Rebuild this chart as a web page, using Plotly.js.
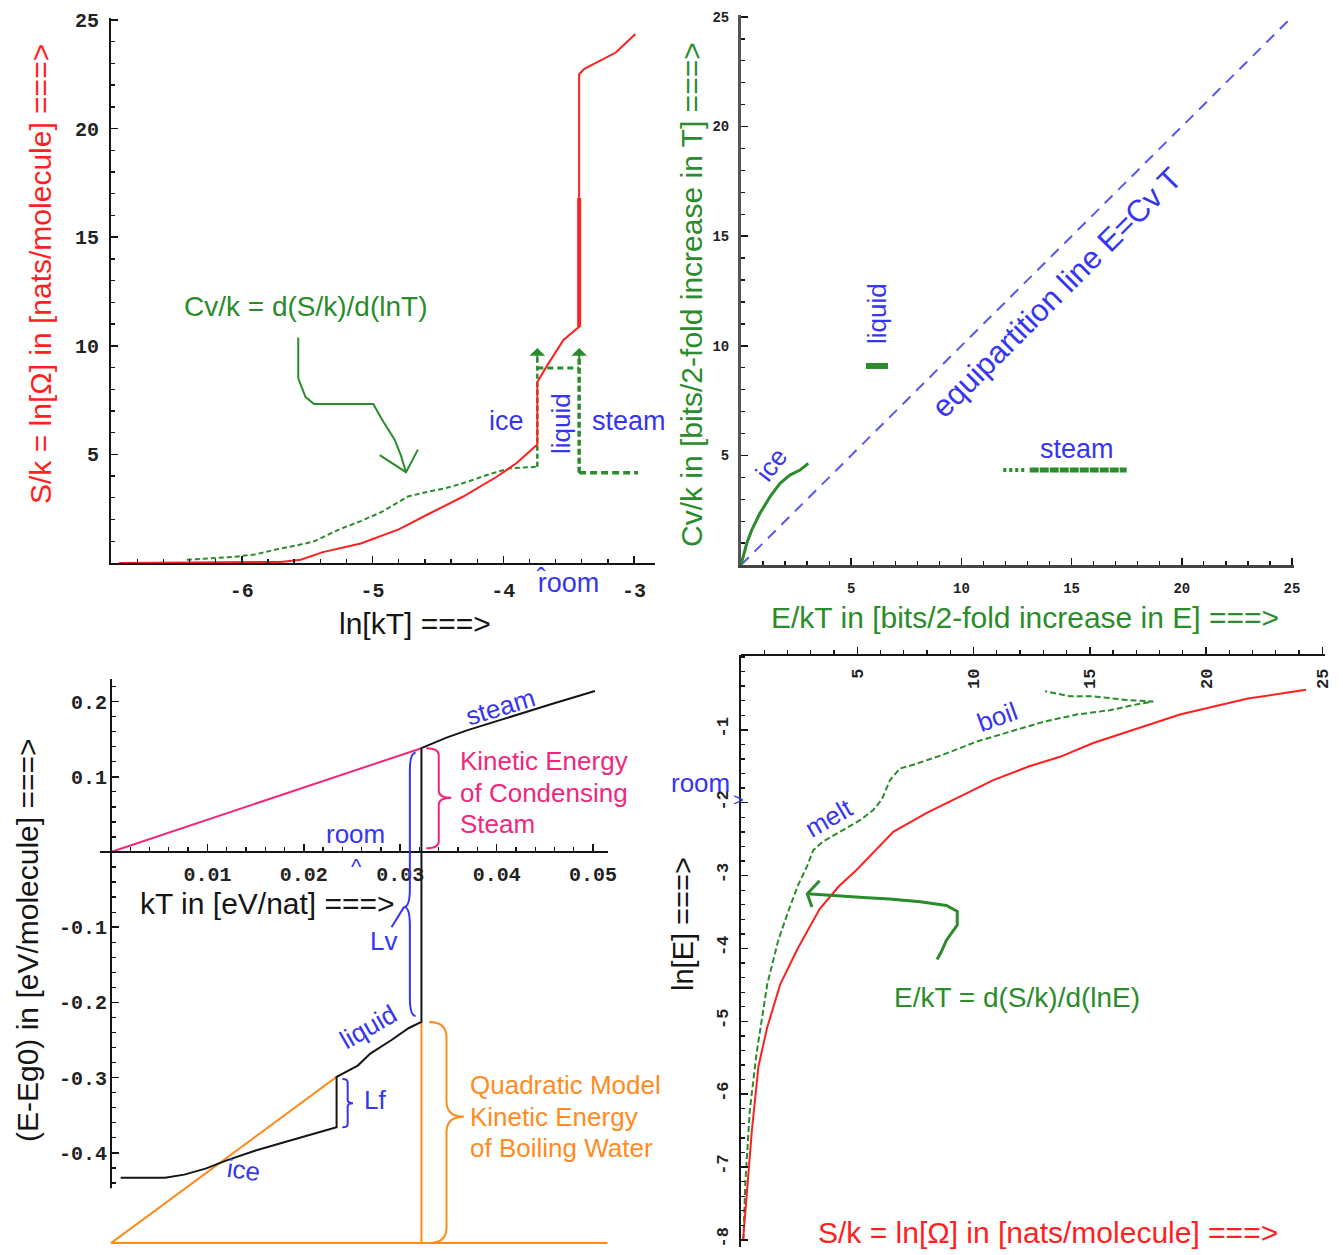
<!DOCTYPE html>
<html><head><meta charset="utf-8">
<script src="https://cdn.plot.ly/plotly-3.0.1.min.js"></script>
<style>html,body{margin:0;padding:0;background:#fff}#chart{width:1343px;height:1255px}</style>
</head><body><div id="chart"></div>
<script>
// ---------- Panel 1: S/k and Cv/k versus ln[kT] ----------
const p1_lnkT_S = [-6.94, -5.70, -5.55, -5.38, -5.09, -4.80, -4.56, -4.31, -4.05, -3.90, -3.74, -3.74, -3.67, -3.54, -3.42, -3.42, -3.38, -3.30, -3.14, -2.99];
const p1_S      = [0, 0.05, 0.15, 0.5, 0.9, 1.55, 2.29, 3.05, 3.97, 4.59, 5.45, 8.33, 9.04, 10.27, 10.88, 22.5, 22.75, 23.0, 23.5, 24.35];
const p1_boilThickS = [10.88, 16.8];
const p1_lnkT_CvIce = [-6.42, -6.07, -5.90, -5.74, -5.58, -5.45, -5.25, -5.09, -4.93, -4.73, -4.60, -4.44, -4.31, -4.10, -3.95, -3.74];
const p1_CvIce      = [0.15, 0.28, 0.39, 0.62, 0.81, 0.99, 1.56, 1.93, 2.35, 3.06, 3.25, 3.45, 3.67, 4.10, 4.36, 4.43];
const p1_lnkT_melt = -3.74, p1_lnkT_boil = -3.42, p1_lnkT_end = -2.97;
const p1_CvLiquid = 8.98, p1_CvSteam = 4.16, p1_spikeTop = 9.8;
const p1_arrowX = [-5.568, -5.568, -5.513, -5.448, -4.994, -4.929, -4.831, -4.782, -4.744, null, -4.945, -4.744, -4.653];
const p1_arrowY = [10.38, 8.5, 7.65, 7.32, 7.32, 6.62, 5.68, 4.93, 4.18, null, 4.97, 4.18, 5.22];

// ---------- Panel 2: Cv/k versus E/kT ----------
const p2_EkT_ice = [0, 0.1, 0.26, 0.49, 0.86, 1.32, 1.77, 2.22, 2.68, 3.05];
const p2_Cv_ice  = [0, 0.38, 0.99, 1.6, 2.36, 3.12, 3.73, 4.1, 4.33, 4.64];
const p2_EkT_liquid = [5.67, 6.67], p2_Cv_liquid = 9.08;
const p2_EkT_steamDot = [11.9, 12.9], p2_EkT_steam = [13.1, 17.5], p2_Cv_steam = 4.33;
const p2_equip = [0, 25];

// ---------- Panel 3: (E-Eg0) versus kT ----------
const p3_kT = [0.001, 0.0056, 0.0076, 0.0098, 0.012, 0.015, 0.0185, 0.0212, 0.0234, 0.0234, 0.0256, 0.0269, 0.0291, 0.0309, 0.0322, 0.0322, 0.0348, 0.037, 0.0414, 0.0458, 0.0502];
const p3_E  = [-0.433, -0.433, -0.429, -0.421, -0.41, -0.397, -0.384, -0.374, -0.366, -0.299, -0.284, -0.268, -0.25, -0.234, -0.226, 0.138, 0.152, 0.162, 0.18, 0.197, 0.214];
const p3_pinkKT = [0, 0.0322], p3_pinkE = [0, 0.138];
const p3_orangeBase = -0.52, p3_orangeEnd = 0.0517;
const p3_orangeDiagKT = [0, 0.0234], p3_orangeDiagE = [-0.52, -0.299];
const p3_boilKT = 0.0322, p3_boilLiquidE = -0.226;
const p3_LvLineKT = [0.0304, 0.0291], p3_LvLineE = [-0.073, -0.100];

// ---------- Panel 4: ln[E] versus S/k and E/kT ----------
const p4_S    = [0.09, 0.28, 0.47, 0.75, 1.13, 1.69, 2.44, 3.38, 4.2, 4.98, 5.8, 6.55, 7.99, 9.42, 10.85, 12.4, 13.72, 15.15, 16.87, 18.88, 21.8, 24.3];
const p4_lnE_S = [-8.0, -7.3, -6.49, -5.62, -5.08, -4.49, -4.0, -3.46, -3.15, -2.92, -2.65, -2.40, -2.14, -1.92, -1.69, -1.5, -1.37, -1.18, -1.0, -0.79, -0.57, -0.45];
const p4_EkT  = [0.1, 0.19, 0.38, 0.66, 1.13, 1.6, 2.07, 2.44, 2.83, 3.11, 3.54, 4.26, 5.12, 5.69, 6.05, 6.41, 6.84, 7.41, 8.70, 10.14, 11.57, 13.0, 14.44, 15.87, 16.87, 17.73, 16.59, 15.15, 14.15, 13.08];
const p4_lnE_EkT = [-8.0, -7.19, -6.22, -5.46, -4.49, -3.89, -3.46, -3.14, -2.88, -2.65, -2.53, -2.40, -2.24, -2.10, -1.96, -1.69, -1.53, -1.48, -1.34, -1.16, -1.02, -0.89, -0.79, -0.73, -0.66, -0.61, -0.59, -0.54, -0.54, -0.47];
const p4_arrowX = [8.43, 8.61, 8.83, 9.06, 9.30, 9.30, 8.83, 7.71, 6.39, 5.26, 3.95, 2.85, null, 3.38, 2.85, 3.05];
const p4_arrowY = [-4.15, -4.05, -3.89, -3.78, -3.68, -3.49, -3.41, -3.36, -3.32, -3.30, -3.27, -3.25, null, -3.07, -3.25, -3.43];

// ---------- styling ----------
const W = 1343, H = 1255;
const px = v => v / W, py = v => 1 - v / H;
const RED = '#ff1f1f', GREEN = '#2a8c2a', BLUE = '#3535f2', PINK = '#f0287c', ORANGE = '#ff8b1f', BLACK = '#151515';
const SANS = 'Liberation Sans, Arial, sans-serif';
const MONO = 'Liberation Mono, Courier New, monospace';

function line(x, y, xa, ya, color, width, dash) {
  return {type: 'scatter', mode: 'lines', x: x, y: y, xaxis: xa, yaxis: ya, hoverinfo: 'skip',
          line: {color: color, width: width, dash: dash || 'solid'}, connectgaps: false};
}
const traces = [
  // panel 1
  line(p1_lnkT_CvIce, p1_CvIce, 'x', 'y', GREEN, 2, '5px,3px'),
  line([p1_lnkT_melt, p1_lnkT_melt], [p1_CvIce[p1_CvIce.length - 1], p1_spikeTop], 'x', 'y', GREEN, 2.5, '5px,3px'),
  line([p1_lnkT_melt, p1_lnkT_boil], [p1_CvLiquid, p1_CvLiquid], 'x', 'y', GREEN, 3, '6px,4px'),
  line([p1_lnkT_boil, p1_lnkT_boil], [p1_CvSteam, p1_spikeTop], 'x', 'y', GREEN, 3.5, '6px,3px'),
  line([p1_lnkT_boil, p1_lnkT_end], [p1_CvSteam, p1_CvSteam], 'x', 'y', GREEN, 3.5, '7px,4px'),
  line(p1_lnkT_S, p1_S, 'x', 'y', RED, 2),
  line([p1_lnkT_boil, p1_lnkT_boil], p1_boilThickS, 'x', 'y', RED, 4),
  line(p1_arrowX, p1_arrowY, 'x', 'y', GREEN, 2),
  // panel 2
  line(p2_equip, p2_equip, 'x2', 'y2', '#5757ee', 2, '11px,8px'),
  line(p2_EkT_ice, p2_Cv_ice, 'x2', 'y2', GREEN, 3),
  line(p2_EkT_liquid, [p2_Cv_liquid, p2_Cv_liquid], 'x2', 'y2', GREEN, 6),
  line(p2_EkT_steamDot, [p2_Cv_steam, p2_Cv_steam], 'x2', 'y2', GREEN, 4, '3px,3px'),
  line(p2_EkT_steam, [p2_Cv_steam, p2_Cv_steam], 'x2', 'y2', GREEN, 5, '9px,1px'),
  // panel 3
  line([0, p3_orangeEnd], [p3_orangeBase, p3_orangeBase], 'x3', 'y3', ORANGE, 2),
  line(p3_orangeDiagKT, p3_orangeDiagE, 'x3', 'y3', ORANGE, 2),
  line([p3_boilKT, p3_boilKT], [p3_orangeBase, p3_boilLiquidE], 'x3', 'y3', ORANGE, 2),
  line(p3_pinkKT, p3_pinkE, 'x3', 'y3', PINK, 2),
  line(p3_kT, p3_E, 'x3', 'y3', BLACK, 2),
  line(p3_LvLineKT, p3_LvLineE, 'x3', 'y3', BLUE, 2),
  // panel 4
  line(p4_EkT, p4_lnE_EkT, 'x4', 'y4', GREEN, 2, '6px,3px'),
  line(p4_S, p4_lnE_S, 'x4', 'y4', RED, 2),
  line(p4_arrowX, p4_arrowY, 'x4', 'y4', GREEN, 3)
];

function ax(o) {
  return Object.assign({
    showgrid: false, zeroline: false, showline: true, linecolor: BLACK, linewidth: 2,
    ticks: 'inside', ticklen: 7, tickwidth: 1.5, tickcolor: BLACK, fixedrange: true,
    tickfont: {family: MONO, size: 20, weight: 'bold', color: '#222'}
  }, o);
}
function minor(o) { return Object.assign({ticks: 'inside', ticklen: 4, tickwidth: 1.3, tickcolor: BLACK}, o); }
const p3MinorY = [];
for (let v = -0.44; v <= 0.221; v += 0.02) p3MinorY.push(Math.round(v * 100) / 100);

function brace(xr, yr, x, y0, y1, d, ym, color) {
  ym = (ym === undefined) ? (y0 + y1) / 2 : ym;
  const h = x + d / 2, s = (y1 - y0) * 0.07;
  const path = `M ${x},${y0} Q ${h},${y0} ${h},${y0 + s} L ${h},${ym - s} Q ${h},${ym} ${x + d},${ym} ` +
               `Q ${h},${ym} ${h},${ym + s} L ${h},${y1 - s} Q ${h},${y1} ${x},${y1}`;
  return {type: 'path', xref: xr, yref: yr, path: path, line: {color: color, width: 2}};
}

function lab(text, x, y, size, color, angle, extra) {
  return Object.assign({text: text, x: px(x), y: py(y), xref: 'paper', yref: 'paper', showarrow: false,
    xanchor: 'center', yanchor: 'middle', textangle: angle || 0,
    font: {family: SANS, size: size, color: color}}, extra || {});
}
function spikeHead(x, xa, ya) {
  return {x: x, y: p1_spikeTop + 0.1, ax: x, ay: p1_spikeTop - 0.6, xref: xa, yref: ya, axref: xa, ayref: ya,
    showarrow: true, arrowhead: 1, arrowsize: 1.3, arrowwidth: 2, arrowcolor: GREEN, text: ''};
}

const annotations = [
  // panel 1
  lab('S/k = ln[Ω] in [nats/molecule] ===&gt;', 40, 274, 30, RED, -90),
  lab('ln[kT] ===&gt;', 415, 623, 30, BLACK),
  lab('Cv/k = d(S/k)/d(lnT)', 305, 306, 28, GREEN),
  lab('ice', 506, 421, 27, BLUE),
  lab('liquid', 561, 424, 26, BLUE, -90),
  lab('steam', 629, 421, 27, BLUE),
  lab('r\u0302oom', 567, 582, 27, BLUE),
  spikeHead(p1_lnkT_melt, 'x', 'y'),
  spikeHead(p1_lnkT_boil, 'x', 'y'),
  // panel 2
  lab('Cv/k in [bits/2-fold increase in T] ===&gt;', 691, 295, 30, GREEN, -90),
  lab('E/kT in [bits/2-fold increase in E] ===&gt;', 1025, 617, 30, GREEN),
  lab('equipartition line E=Cv T', 1057, 293, 31, BLUE, -45),
  lab('liquid', 877, 313, 26, BLUE, -90),
  lab('steam', 1077, 449, 27, BLUE),
  lab('ice', 771, 465, 26, BLUE, -52),
  // panel 3
  lab('(E-Eg0) in [eV/molecule] ===&gt;', 27, 940, 30, BLACK, -90),
  lab('kT in [eV/nat] ===&gt;', 267, 903, 30, BLACK),
  lab('steam', 500, 707, 26, BLUE, -17),
  lab('Kinetic Energy', 458, 761, 26, PINK, 0, {xanchor: 'left'}),
  lab('of Condensing', 458, 793, 26, PINK, 0, {xanchor: 'left'}),
  lab('Steam', 458, 824, 26, PINK, 0, {xanchor: 'left'}),
  lab('room', 355, 834, 26, BLUE),
  lab('^', 356, 866, 22, BLUE),
  lab('Lv', 383, 941, 26, BLUE),
  lab('liquid', 368, 1027, 26, BLUE, -30),
  lab('Lf', 375, 1100, 26, BLUE),
  lab('ice', 243, 1170, 26, BLUE, 8),
  lab('Quadratic Model', 468, 1085, 26, ORANGE, 0, {xanchor: 'left'}),
  lab('Kinetic Energy', 468, 1117, 26, ORANGE, 0, {xanchor: 'left'}),
  lab('of Boiling Water', 468, 1148, 26, ORANGE, 0, {xanchor: 'left'}),
  // panel 4
  lab('ln[E] ===&gt;', 683, 924, 29, BLACK, -90),
  lab('S/k = ln[Ω] in [nats/molecule] ===&gt;', 1048, 1232, 30, RED),
  lab('E/kT = d(S/k)/d(lnE)', 1017, 997, 28, GREEN),
  lab('boil', 997, 717, 26, BLUE, -20),
  lab('melt', 829, 818, 26, BLUE, -30),
  lab('room', 700, 783, 26, BLUE),
  lab('&gt;', 738, 800, 18, BLUE)
];

const shapes = [
  {type: 'line', xref: 'x3', yref: 'y3', x0: 0, x1: 0, y0: -0.447, y1: 0.23, line: {color: BLACK, width: 2}},
  brace('x3', 'y3', 0.0327, 0.138, 0.005, 0.0026, 0.072, PINK),
  brace('x3', 'y3', 0.0316, 0.132, -0.218, -0.0012, -0.073, BLUE),
  brace('x3', 'y3', 0.0240, -0.302, -0.366, 0.0011, -0.334, BLUE),
  brace('x3', 'y3', 0.0330, -0.226, -0.52, 0.0036, -0.352, ORANGE)
];

const layout = {
  width: W, height: H, margin: {l: 0, r: 0, t: 0, b: 0},
  paper_bgcolor: '#ffffff', plot_bgcolor: 'rgba(0,0,0,0)', showlegend: false,
  font: {family: SANS, color: BLACK},
  xaxis: ax({domain: [px(111), px(655)], range: [-7, -2.84], anchor: 'y',
    tickvals: [-6, -5, -4, -3], ticktext: ['-6', '-5', '-4', '-3'], ticklabelstandoff: 8,
    minor: minor({tick0: -7, dtick: 0.2})}),
  yaxis: ax({domain: [py(563), py(17.8)], range: [0, 25.1], anchor: 'x',
    tickvals: [5, 10, 15, 20, 25], ticklabelstandoff: 6, minor: minor({tick0: 0, dtick: 1})}),
  xaxis2: ax({domain: [px(741), px(1294.2)], range: [0, 25.1], anchor: 'y2',
    tickvals: [5, 10, 15, 20, 25], ticklabelstandoff: 9, linecolor: '#444', linewidth: 2.5,
    tickfont: {family: MONO, size: 14, weight: 'bold', color: '#222'},
    minor: minor({tick0: 0, dtick: 1})}),
  yaxis2: ax({domain: [py(565), py(14.8)], range: [0, 25.1], anchor: 'x2',
    tickvals: [5, 10, 15, 20, 25], ticklabelstandoff: 6, linecolor: '#555', linewidth: 3,
    tickfont: {family: MONO, size: 14, weight: 'bold', color: '#222'},
    minor: minor({tick0: 0, dtick: 1})}),
  xaxis3: ax({domain: [px(100), px(607.5)], range: [-0.00114, 0.0515], anchor: 'free', position: py(852),
    tickvals: [0.01, 0.02, 0.03, 0.04, 0.05], ticktext: ['0.01', '0.02', '0.03', '0.04', '0.05'],
    ticklabelstandoff: 4, minor: minor({tick0: 0, dtick: 0.002})}),
  yaxis3: ax({domain: [py(1250.6), py(679)], range: [-0.53, 0.23], anchor: 'free', position: px(111),
    showline: false, tickvals: [-0.4, -0.3, -0.2, -0.1, 0.1, 0.2],
    ticktext: ['-0.4', '-0.3', '-0.2', '-0.1', '0.1', '0.2'], ticklabelstandoff: 4,
    minor: minor({tickmode: 'array', tickvals: p3MinorY})}),
  xaxis4: ax({domain: [px(741), px(1324.6)], range: [0, 25.1], anchor: 'free', position: py(654.8), side: 'bottom',
    ticks: 'inside', tickangle: -90, ticklabelstandoff: 6,
    tickvals: [5, 10, 15, 20, 25], tickfont: {family: MONO, size: 17, weight: 'bold', color: '#222'},
    minor: minor({ticks: 'inside', tick0: 0, dtick: 1})}),
  yaxis4: ax({domain: [py(1247.2), py(654.8)], range: [-8.1, 0.03], anchor: 'x4', tickangle: -90,
    tickvals: [-8, -7, -6, -5, -4, -3, -2, -1], ticktext: ['-8', '-7', '-6', '-5', '-4', '-3', '-2', '-1'],
    tickfont: {family: MONO, size: 17, weight: 'bold', color: '#222'}, ticklabelstandoff: 4,
    minor: minor({tick0: 0, dtick: 0.2})}),
  annotations: annotations,
  shapes: shapes
};

Plotly.newPlot('chart', traces, layout, {displayModeBar: false, staticPlot: true});
</script>
</body></html>
